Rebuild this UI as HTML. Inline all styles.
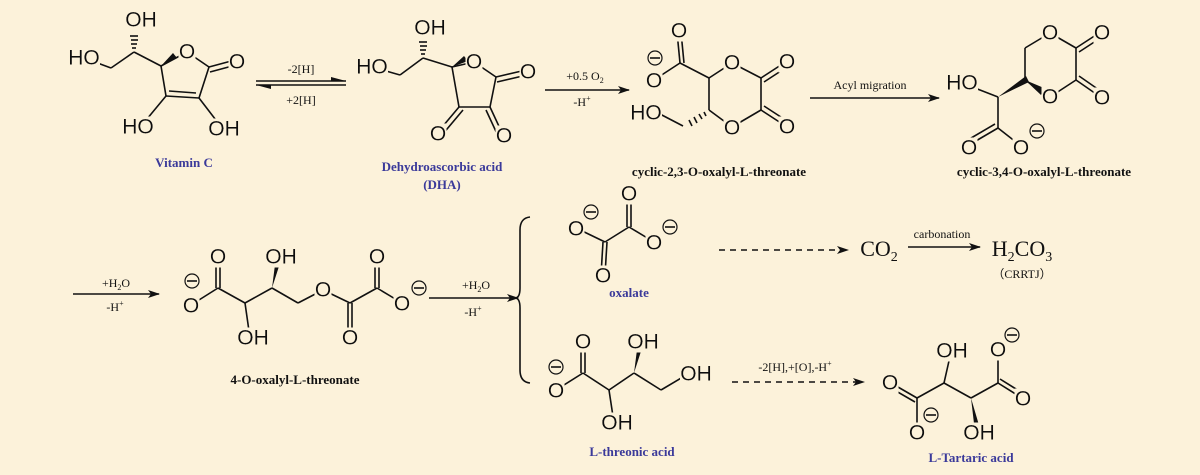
<!DOCTYPE html>
<html><head><meta charset="utf-8"><style>
html,body{margin:0;padding:0;background:#fcf2da;}
svg{display:block}
.a{font-family:"Liberation Sans",sans-serif;font-size:21px;fill:#111;text-anchor:middle;dominant-baseline:central;filter:url(#bg);}
.m{font-family:"Liberation Serif",serif;font-size:12px;fill:#111;text-anchor:middle;}
.lb{font-family:"Liberation Serif",serif;font-size:13px;font-weight:bold;fill:#111;text-anchor:middle;}
.lbb{font-family:"Liberation Serif",serif;font-size:13px;font-weight:bold;fill:#3b3a9a;text-anchor:middle;}
.big{font-family:"Liberation Serif",serif;font-size:22px;fill:#111;text-anchor:middle;}
line,polyline,path{stroke:#111;stroke-width:1.6;fill:none;}
circle{fill:#fcf2da !important;}
</style></head><body>
<svg width="1200" height="475" viewBox="0 0 1200 475" xmlns="http://www.w3.org/2000/svg">
<defs>
<filter id="bg" x="0" y="0.05" width="1" height="0.9"><feFlood flood-color="#fcf2da"/><feComposite in="SourceGraphic"/></filter>
<marker id="ah" markerWidth="12" markerHeight="8" refX="11" refY="4" orient="auto" markerUnits="userSpaceOnUse"><path d="M0,0 L12,4 L0,8 L3,4 Z" style="fill:#111;stroke:none"/></marker>
</defs>
<rect width="1200" height="475" fill="#fcf2da"/>

<!-- Vitamin C -->
<g>
<line x1="84" y1="58" x2="111" y2="68"/>
<line x1="111" y1="68" x2="134" y2="52"/>
<line x1="134" y1="52" x2="161" y2="66"/>
<g stroke-width="1.3"><line x1="132" y1="48" x2="136" y2="48"/><line x1="131" y1="44" x2="137" y2="44"/><line x1="131" y1="40" x2="138" y2="40"/><line x1="130" y1="36" x2="138" y2="36"/></g>
<polygon points="161,66 173,53 177,58" fill="#111"/>
<line x1="161" y1="66" x2="187" y2="52"/>
<line x1="187" y1="52" x2="209" y2="67"/>
<line x1="209" y1="67" x2="235" y2="60"/><line x1="210" y1="72" x2="236" y2="65"/>
<line x1="209" y1="67" x2="199" y2="98"/>
<line x1="199" y1="98" x2="166" y2="96"/><line x1="196" y1="93" x2="169" y2="91"/>
<line x1="166" y1="96" x2="161" y2="66"/>
<line x1="166" y1="96" x2="142" y2="125"/>
<line x1="199" y1="98" x2="222" y2="128"/>
<text class="a" x="141" y="20">OH</text>
<text class="a" x="84" y="58">HO</text>
<text class="a" x="187" y="52">O</text>
<text class="a" x="237" y="62">O</text>
<text class="a" x="138" y="127">HO</text>
<text class="a" x="224" y="129">OH</text>
<text class="lbb" x="184" y="167">Vitamin C</text>
</g>

<!-- equilibrium -->
<line x1="256" y1="81" x2="346" y2="81"/><polygon points="346,81 331,77 331,81" fill="#111"/>
<line x1="256" y1="85" x2="346" y2="85"/><polygon points="256,85 271,89 271,85" fill="#111"/>
<text class="m" x="301" y="73">-2[H]</text>
<text class="m" x="301" y="104">+2[H]</text>

<!-- DHA -->
<g>
<line x1="372" y1="67" x2="400" y2="75"/>
<line x1="400" y1="75" x2="423" y2="58"/>
<line x1="423" y1="58" x2="452" y2="67"/>
<g stroke-width="1.3"><line x1="421" y1="54" x2="425" y2="54"/><line x1="420" y1="50" x2="426" y2="50"/><line x1="420" y1="46" x2="427" y2="46"/><line x1="419" y1="42" x2="427" y2="42"/></g>
<polygon points="452,67 464,56 468,61" fill="#111"/>
<line x1="452" y1="67" x2="474" y2="62"/>
<line x1="474" y1="62" x2="496" y2="77"/>
<line x1="496" y1="77" x2="526" y2="70"/><line x1="497" y1="82" x2="527" y2="75"/>
<line x1="496" y1="77" x2="490" y2="107"/>
<line x1="490" y1="107" x2="459" y2="107"/>
<line x1="459" y1="107" x2="452" y2="67"/>
<line x1="459" y1="107" x2="438" y2="132"/><line x1="463" y1="110" x2="442" y2="135"/>
<line x1="490" y1="107" x2="503" y2="135"/><line x1="486" y1="110" x2="499" y2="138"/>
<text class="a" x="430" y="28">OH</text>
<text class="a" x="372" y="67">HO</text>
<text class="a" x="474" y="62">O</text>
<text class="a" x="528" y="72">O</text>
<text class="a" x="438" y="134">O</text>
<text class="a" x="504" y="136">O</text>
<text class="lbb" x="442" y="171">Dehydroascorbic acid</text>
<text class="lbb" x="442" y="189">(DHA)</text>
</g>

<!-- arrow +0.5 O2 -->
<line x1="545" y1="90" x2="629" y2="90" marker-end="url(#ah)"/>
<text class="m" x="585" y="80">+0.5 O<tspan font-size="8" dy="3">2</tspan></text>
<text class="m" x="582" y="106">-H<tspan font-size="8" dy="-5">+</tspan></text>

<!-- cyclic-2,3 -->
<g>
<line x1="680" y1="63" x2="677" y2="32"/><line x1="684" y1="63" x2="681" y2="32"/>
<line x1="680" y1="63" x2="654" y2="80"/>
<line x1="680" y1="63" x2="709" y2="78"/>
<line x1="709" y1="78" x2="732" y2="63"/>
<line x1="732" y1="63" x2="761" y2="78"/>
<line x1="761" y1="78" x2="784" y2="63"/><line x1="764" y1="82" x2="787" y2="67"/>
<line x1="761" y1="78" x2="761" y2="110"/>
<line x1="761" y1="110" x2="784" y2="125"/><line x1="764" y1="106" x2="787" y2="121"/>
<line x1="761" y1="110" x2="732" y2="127"/>
<line x1="732" y1="127" x2="709" y2="110"/>
<line x1="709" y1="110" x2="709" y2="78"/>
<g stroke-width="1.3"><line x1="704" y1="112" x2="706" y2="116"/><line x1="699" y1="114" x2="702" y2="119"/><line x1="694" y1="117" x2="697" y2="123"/><line x1="689" y1="120" x2="692" y2="126"/></g>
<line x1="683" y1="126" x2="658" y2="113"/>
<text class="a" x="679" y="31">O</text>
<text class="a" x="654" y="81">O</text>
<circle cx="655" cy="58" r="7" stroke="#111" stroke-width="1.2"/><line x1="650" y1="58" x2="660" y2="58" stroke-width="1.6"/>
<text class="a" x="732" y="63">O</text>
<text class="a" x="787" y="62">O</text>
<text class="a" x="787" y="127">O</text>
<text class="a" x="732" y="128">O</text>
<text class="a" x="646" y="113">HO</text>
<text class="lb" x="719" y="176">cyclic-2,3-O-oxalyl-L-threonate</text>
</g>

<!-- Acyl migration -->
<line x1="810" y1="98" x2="939" y2="98" marker-end="url(#ah)"/>
<text class="m" x="870" y="89">Acyl migration</text>

<!-- cyclic-3,4 -->
<g>
<line x1="1025" y1="48" x2="1050" y2="33"/>
<line x1="1050" y1="33" x2="1076" y2="48"/>
<line x1="1076" y1="48" x2="1099" y2="33"/><line x1="1079" y1="52" x2="1102" y2="37"/>
<line x1="1076" y1="48" x2="1076" y2="80"/>
<line x1="1076" y1="80" x2="1099" y2="96"/><line x1="1079" y1="76" x2="1102" y2="92"/>
<line x1="1076" y1="80" x2="1050" y2="97"/>
<line x1="1050" y1="97" x2="1025" y2="80"/>
<line x1="1025" y1="80" x2="1025" y2="48"/>
<polygon points="998,97 1026,76 1029,82" fill="#111"/>
<polygon points="1025,80 1044,88 1041,95" fill="#111"/>
<line x1="998" y1="97" x2="962" y2="83"/>
<line x1="998" y1="97" x2="998" y2="128"/>
<line x1="998" y1="128" x2="969" y2="145"/><line x1="995" y1="124" x2="966" y2="141"/>
<line x1="998" y1="128" x2="1021" y2="146"/>
<text class="a" x="1050" y="33">O</text>
<text class="a" x="1102" y="33">O</text>
<text class="a" x="1102" y="98">O</text>
<text class="a" x="1050" y="97">O</text>
<text class="a" x="962" y="83">HO</text>
<text class="a" x="969" y="148">O</text>
<text class="a" x="1021" y="148">O</text>
<circle cx="1037" cy="131" r="7" stroke="#111" stroke-width="1.2"/><line x1="1032" y1="131" x2="1042" y2="131" stroke-width="1.6"/>
<text class="lb" x="1044" y="176">cyclic-3,4-O-oxalyl-L-threonate</text>
</g>

<!-- arrow +H2O row 2 -->
<line x1="73" y1="294" x2="159" y2="294" marker-end="url(#ah)"/>
<text class="m" x="116" y="287">+H<tspan font-size="8" dy="3">2</tspan><tspan dy="-3">O</tspan></text>
<text class="m" x="115" y="311">-H<tspan font-size="8" dy="-5">+</tspan></text>

<!-- 4-O-oxalyl-L-threonate -->
<g>
<line x1="191" y1="305" x2="218" y2="288"/>
<line x1="216" y1="288" x2="216" y2="257"/><line x1="220" y1="288" x2="220" y2="257"/>
<line x1="218" y1="288" x2="245" y2="303"/>
<line x1="245" y1="303" x2="250" y2="338"/>
<line x1="245" y1="303" x2="272" y2="288"/>
<polygon points="272,288 276,257 282,257" fill="#111"/>
<line x1="272" y1="288" x2="298" y2="303"/>
<line x1="298" y1="303" x2="323" y2="290"/>
<line x1="323" y1="290" x2="350" y2="303"/>
<line x1="348" y1="303" x2="348" y2="338"/><line x1="352" y1="303" x2="352" y2="338"/>
<line x1="350" y1="303" x2="377" y2="288"/>
<line x1="375" y1="288" x2="375" y2="257"/><line x1="379" y1="288" x2="379" y2="257"/>
<line x1="377" y1="288" x2="402" y2="303"/>
<circle cx="192" cy="281" r="7" stroke="#111" stroke-width="1.2"/><line x1="187" y1="281" x2="197" y2="281" stroke-width="1.6"/>
<text class="a" x="191" y="306">O</text>
<text class="a" x="218" y="257">O</text>
<text class="a" x="253" y="338">OH</text>
<text class="a" x="281" y="257">OH</text>
<text class="a" x="323" y="290">O</text>
<text class="a" x="350" y="338">O</text>
<text class="a" x="377" y="257">O</text>
<text class="a" x="402" y="304">O</text>
<circle cx="419" cy="288" r="7" stroke="#111" stroke-width="1.2"/><line x1="414" y1="288" x2="424" y2="288" stroke-width="1.6"/>
<text class="lb" x="295" y="384">4-O-oxalyl-L-threonate</text>
</g>

<!-- arrow to brace -->
<line x1="429" y1="298" x2="518" y2="298" marker-end="url(#ah)"/>
<text class="m" x="476" y="289">+H<tspan font-size="8" dy="3">2</tspan><tspan dy="-3">O</tspan></text>
<text class="m" x="473" y="316">-H<tspan font-size="8" dy="-5">+</tspan></text>
<path d="M530,217 Q520,218 520,230 L520,288 Q520,298 515,298 Q520,298 520,308 L520,370 Q520,382 530,383"/>

<!-- oxalate -->
<g>
<line x1="576" y1="228" x2="605" y2="242"/>
<line x1="603" y1="242" x2="601" y2="275"/><line x1="607" y1="242" x2="605" y2="275"/>
<line x1="605" y1="242" x2="629" y2="227"/>
<line x1="627" y1="227" x2="627" y2="195"/><line x1="631" y1="227" x2="631" y2="195"/>
<line x1="629" y1="227" x2="654" y2="242"/>
<text class="a" x="576" y="229">O</text>
<circle cx="591" cy="212" r="7" stroke="#111" stroke-width="1.2"/><line x1="586" y1="212" x2="596" y2="212" stroke-width="1.6"/>
<text class="a" x="603" y="276">O</text>
<text class="a" x="629" y="194">O</text>
<text class="a" x="654" y="243">O</text>
<circle cx="670" cy="227" r="7" stroke="#111" stroke-width="1.2"/><line x1="665" y1="227" x2="675" y2="227" stroke-width="1.6"/>
<text class="lbb" x="629" y="297">oxalate</text>
</g>

<line x1="719" y1="250" x2="848" y2="250" stroke-dasharray="6,5" marker-end="url(#ah)"/>
<text class="big" x="879" y="256">CO<tspan font-size="14" dy="5">2</tspan></text>
<line x1="908" y1="247" x2="980" y2="247" marker-end="url(#ah)"/>
<text class="m" x="942" y="238">carbonation</text>
<text class="big" x="1022" y="256">H<tspan font-size="14" dy="5">2</tspan><tspan dy="-5">CO</tspan><tspan font-size="14" dy="5">3</tspan></text>
<text class="m" x="1022" y="278">（CRRTJ）</text>

<!-- L-threonic acid -->
<g>
<line x1="556" y1="390" x2="583" y2="373"/>
<line x1="581" y1="373" x2="581" y2="342"/><line x1="585" y1="373" x2="585" y2="342"/>
<line x1="583" y1="373" x2="609" y2="390"/>
<line x1="609" y1="390" x2="614" y2="423"/>
<line x1="609" y1="390" x2="634" y2="373"/>
<polygon points="634,373 638,342 644,342" fill="#111"/>
<line x1="634" y1="373" x2="661" y2="390"/>
<line x1="661" y1="390" x2="688" y2="374"/>
<circle cx="556" cy="367" r="7" stroke="#111" stroke-width="1.2"/><line x1="551" y1="367" x2="561" y2="367" stroke-width="1.6"/>
<text class="a" x="556" y="391">O</text>
<text class="a" x="583" y="342">O</text>
<text class="a" x="617" y="423">OH</text>
<text class="a" x="643" y="342">OH</text>
<text class="a" x="696" y="374">OH</text>
<text class="lbb" x="632" y="456">L-threonic acid</text>
</g>

<line x1="732" y1="382" x2="864" y2="382" stroke-dasharray="6,5" marker-end="url(#ah)"/>
<text class="m" x="795" y="371">-2[H],+[O],-H<tspan font-size="8" dy="-5">+</tspan></text>

<!-- L-Tartaric acid -->
<g>
<line x1="891" y1="383" x2="917" y2="398"/><line x1="889" y1="387" x2="915" y2="402"/>
<line x1="917" y1="398" x2="917" y2="432"/>
<line x1="917" y1="398" x2="944" y2="383"/>
<line x1="944" y1="383" x2="951" y2="352"/>
<line x1="944" y1="383" x2="971" y2="398"/>
<polygon points="971,398 975,432 981,432" fill="#111"/>
<line x1="971" y1="398" x2="998" y2="383"/>
<line x1="998" y1="383" x2="998" y2="350"/>
<line x1="998" y1="383" x2="1022" y2="398"/><line x1="1000" y1="379" x2="1024" y2="394"/>
<text class="a" x="890" y="383">O</text>
<text class="a" x="917" y="433">O</text>
<circle cx="931" cy="415" r="7" stroke="#111" stroke-width="1.2"/><line x1="926" y1="415" x2="936" y2="415" stroke-width="1.6"/>
<text class="a" x="952" y="351">OH</text>
<text class="a" x="979" y="433">OH</text>
<text class="a" x="998" y="350">O</text>
<circle cx="1012" cy="335" r="7" stroke="#111" stroke-width="1.2"/><line x1="1007" y1="335" x2="1017" y2="335" stroke-width="1.6"/>
<text class="a" x="1023" y="399">O</text>
<text class="lbb" x="971" y="462">L-Tartaric acid</text>
</g>
</svg>
</body></html>
